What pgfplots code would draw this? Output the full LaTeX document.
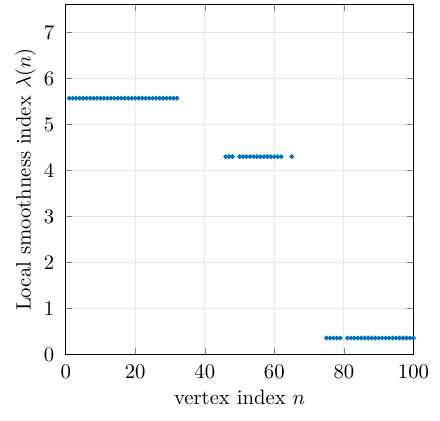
\documentclass[border={4pt 4pt 2pt 2pt}]{standalone}
\usepackage{pgfplots}
\pgfplotsset{compat=1.18}
\definecolor{mblue}{RGB}{0,114,189}
\begin{document}
\begin{tikzpicture}
\begin{axis}[
  scale only axis,
  width=168pt, height=169pt,
  xmin=0, xmax=100, ymin=0, ymax=7.6,
  xtick={0,20,40,60,80,100},
  ytick={0,1,2,3,4,5,6,7},
  tick align=inside,
  major tick length=3pt,
  grid=major,
  major grid style={gray!18, line width=0.4pt},
  axis line style={line width=0.6pt},
  xlabel={vertex index $n$},
  ylabel={Local smoothness index $\lambda(n)$},
  xticklabel style={yshift=-1.5pt},
  yticklabel style={xshift=-2pt},
  xlabel style={yshift=1pt},
  ylabel style={yshift=-3pt},
]
\addplot[only marks, mark=*, mark size=0.95pt, color=mblue, mark options={draw=mblue, fill=mblue}] coordinates {
(1,5.57)(2,5.57)(3,5.57)(4,5.57)(5,5.57)(6,5.57)(7,5.57)(8,5.57)(9,5.57)(10,5.57)
(11,5.57)(12,5.57)(13,5.57)(14,5.57)(15,5.57)(16,5.57)(17,5.57)(18,5.57)(19,5.57)(20,5.57)
(21,5.57)(22,5.57)(23,5.57)(24,5.57)(25,5.57)(26,5.57)(27,5.57)(28,5.57)(29,5.57)(30,5.57)
(31,5.57)(32,5.57)
(46,4.30)(47,4.30)(48,4.30)
(50,4.30)(51,4.30)(52,4.30)(53,4.30)(54,4.30)(55,4.30)(56,4.30)(57,4.30)(58,4.30)(59,4.30)
(60,4.30)(61,4.30)(62,4.30)
(65,4.30)
(75,0.36)(76,0.36)(77,0.36)(78,0.36)(79,0.36)
(81,0.36)(82,0.36)(83,0.36)(84,0.36)(85,0.36)(86,0.36)(87,0.36)(88,0.36)(89,0.36)(90,0.36)
(91,0.36)(92,0.36)(93,0.36)(94,0.36)(95,0.36)(96,0.36)(97,0.36)(98,0.36)(99,0.36)(100,0.36)
};
\end{axis}
\end{tikzpicture}
\end{document}
